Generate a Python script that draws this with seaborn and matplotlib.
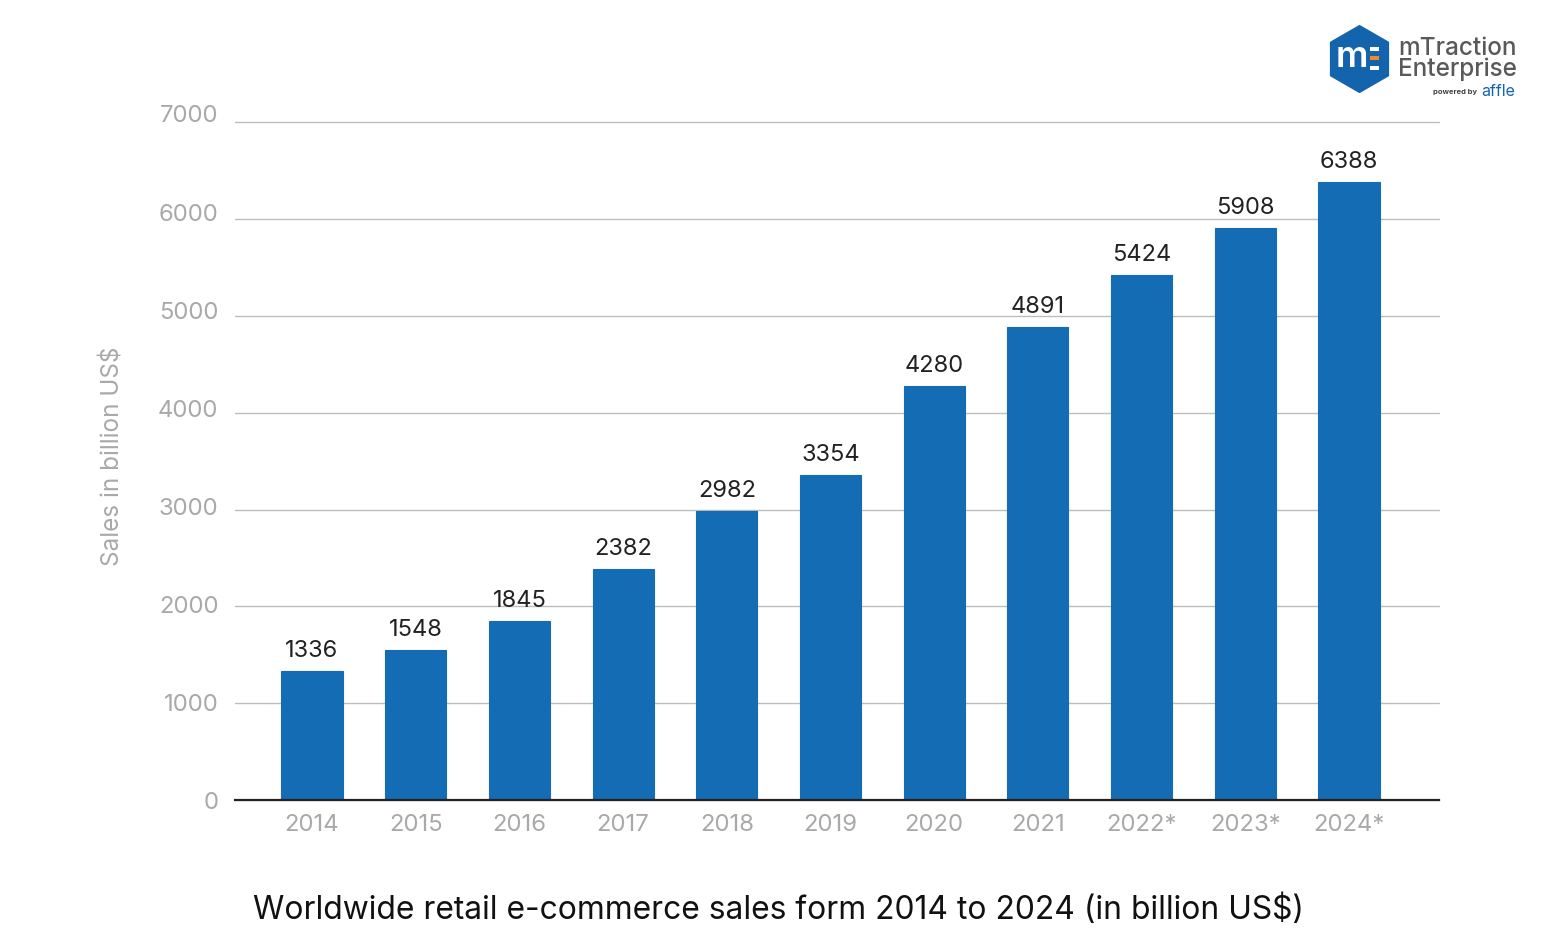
import matplotlib
matplotlib.use("Agg")
import matplotlib.pyplot as plt
from matplotlib.patches import RegularPolygon, Rectangle
from matplotlib.transforms import Affine2D
import pandas as pd
import seaborn as sns

years = ["2014","2015","2016","2017","2018","2019","2020","2021","2022*","2023*","2024*"]
sales = [1336,1548,1845,2382,2982,3354,4280,4891,5424,5908,6388]
yticks = [0,1000,2000,3000,4000,5000,6000,7000]
BLUE = "#146cb5"
GREY = "#a9a9a9"

sns.set_theme(style="white")
plt.rcParams['font.family'] = ['Inter', 'DejaVu Sans']
W, H = 1559, 938
fig = plt.figure(figsize=(W/100, H/100), dpi=100)
ax = fig.add_axes([235/W, 1-800/H, (1439-235)/W, (800-122.5)/H])
df = pd.DataFrame({"year": years, "sales": sales})
sns.barplot(data=df, x="year", y="sales", color=BLUE, saturation=1, width=0.59, ax=ax, zorder=3,
            edgecolor=BLUE, linewidth=0.8)
ax.set_xlim(-0.7425, 10.868)
ax.set_ylim(0, 7000)
ax.set_yticks(yticks)
ax.set_yticklabels([str(v) for v in yticks])
ax.yaxis.grid(True, color="#bdbdbd", lw=1, zorder=0)
ax.xaxis.grid(False)
for gl in ax.get_ygridlines():
    gl.set_clip_on(False)
for s in ["top","right","left"]:
    ax.spines[s].set_visible(False)
ax.spines["bottom"].set_color("#222222")
ax.spines["bottom"].set_linewidth(1.6)
ax.spines["bottom"].set_zorder(5)
ax.tick_params(axis="both", length=0, labelcolor=GREY, labelsize=17.2)
ax.tick_params(axis="x", pad=10)
ax.tick_params(axis="y", pad=12)
fig.canvas.draw()
for v, lab in zip(yticks, ax.get_yticklabels()):
    lab.set_va("center")
    lab.set_transform(lab.get_transform() + Affine2D().translate(0, -3 + 9 * v / 7000))
ax.set_xlabel("")
ax.set_ylabel("")
for c in ax.containers:
    ax.bar_label(c, labels=[str(v) for v in sales], padding=6.5, fontsize=17, color="#222222")
fig.text(113/W, 1-456/H, "Sales in billion US$", rotation=90, ha="center", va="center", fontsize=17.5, color=GREY)
fig.text(778.5/W, 1-910/H, "Worldwide retail e-commerce sales form 2014 to 2024 (in billion US$)", ha="center", va="center", fontsize=22.9, color="#111111")
# logo
lax = fig.add_axes([0,0,1,1], facecolor="none")
lax.set_xlim(0, W); lax.set_ylim(H, 0); lax.axis("off")
lax.add_patch(RegularPolygon((1359.5, 59), 6, radius=33, facecolor="#1464ad", edgecolor="#1464ad", lw=1.5, joinstyle="round"))
lax.text(1352, 57.5, "m", color="white", fontsize=26, fontweight="semibold", ha="center", va="center")
for y0, col in [(47, "white"), (56.5, "#f08a24"), (66, "white")]:
    lax.add_patch(Rectangle((1370, y0), 9, 4, facecolor=col, edgecolor="none"))
lax.text(1398, 48.5, "mTraction", color="#595959", fontsize=17.5, fontweight="medium", ha="left", va="center")
lax.text(1398, 69.5, "Enterprise", color="#595959", fontsize=17.5, fontweight="medium", ha="left", va="center")
lax.text(1477, 92, "powered by", color="#444444", fontsize=5.5, fontweight="bold", ha="right", va="center")
lax.text(1481, 91, "affle", color="#1464ad", fontsize=11.5, ha="left", va="center")
fig.savefig("out.png", dpi=100, facecolor="white")
